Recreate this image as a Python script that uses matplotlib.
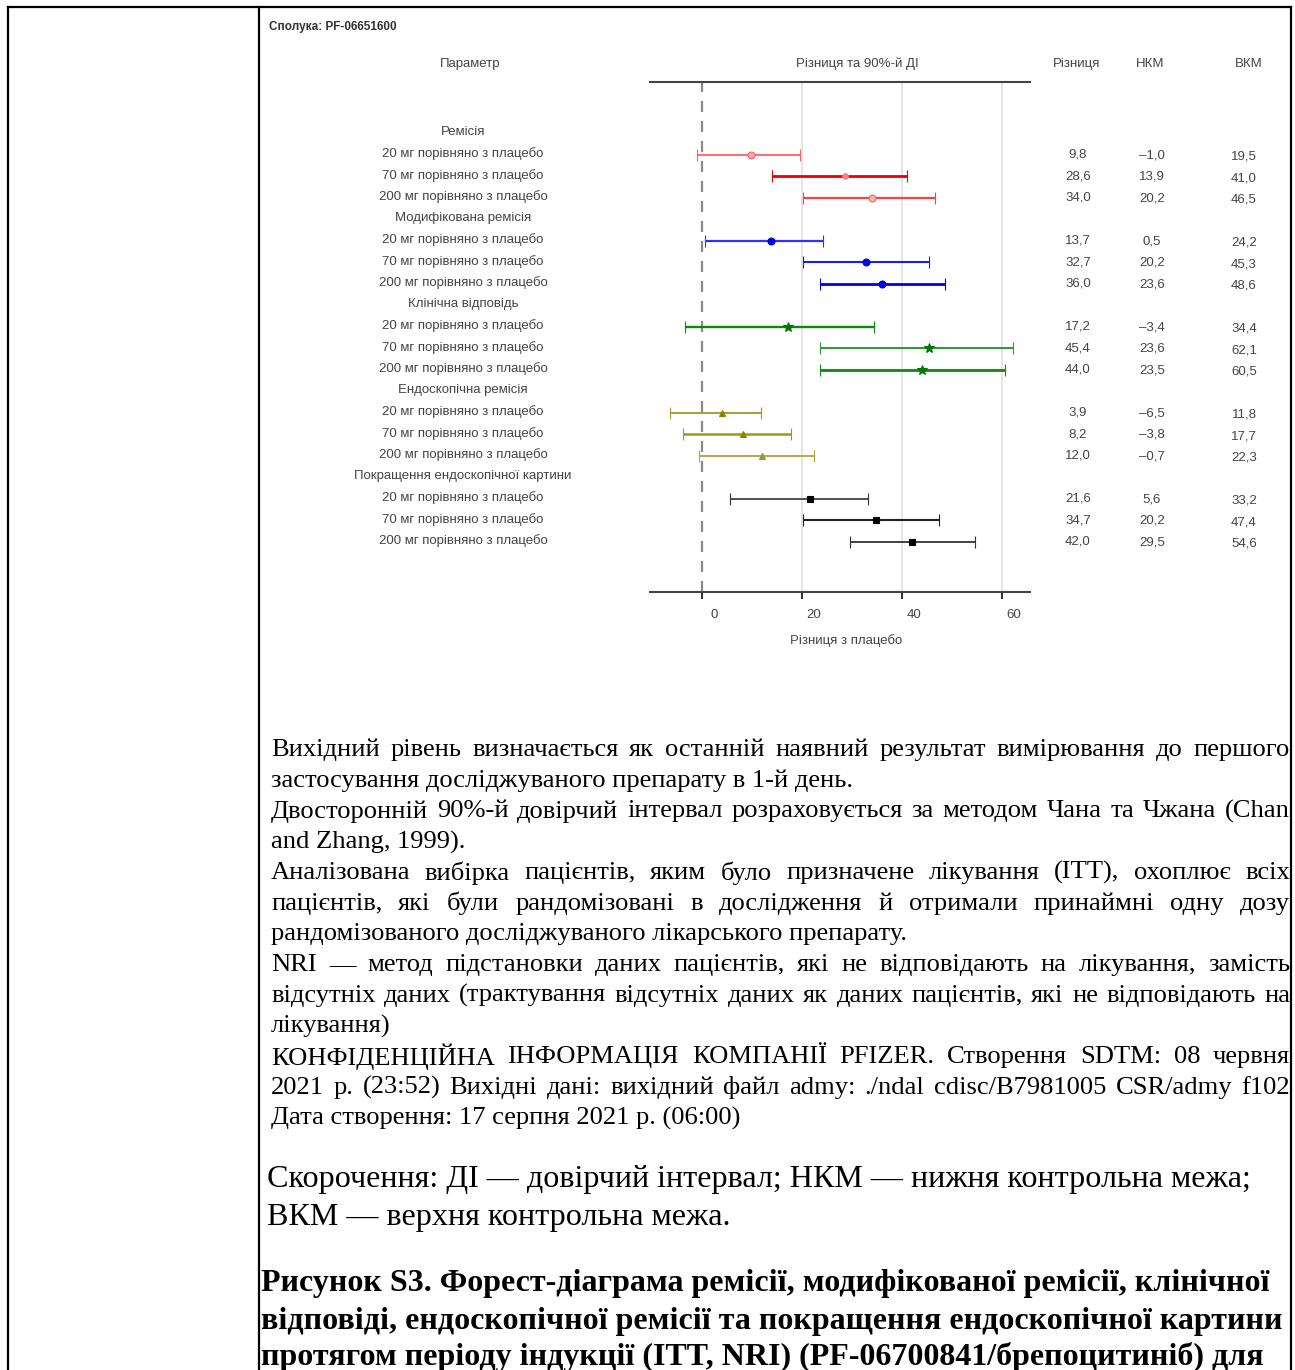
import matplotlib
matplotlib.use("Agg")
import matplotlib.pyplot as plt
import matplotlib.transforms as mtransforms

# ---------------- data ----------------
compound = "Сполука: PF-06651600"
groups = ["Ремісія", "Модифікована ремісія", "Клінічна відповідь",
          "Ендоскопічна ремісія", "Покращення ендоскопічної картини"]
comparisons = ["20 мг порівняно з плацебо", "70 мг порівняно з плацебо",
               "200 мг порівняно з плацебо"]
diff = [9.8, 28.6, 34.0, 13.7, 32.7, 36.0, 17.2, 45.4, 44.0, 3.9, 8.2, 12.0, 21.6, 34.7, 42.0]
lcl = [-1.0, 13.9, 20.2, 0.5, 20.2, 23.6, -3.4, 23.6, 23.5, -6.5, -3.8, -0.7, 5.6, 20.2, 29.5]
ucl = [19.5, 41.0, 46.5, 24.2, 45.3, 48.6, 34.4, 62.1, 60.5, 11.8, 17.7, 22.3, 33.2, 47.4, 54.6]
xticks = [0, 20, 40, 60]
col_headers = ["Параметр", "Різниця та 90%-й ДІ", "Різниця", "НКМ", "ВКМ"]
xlabel = "Різниця з плацебо"

body_lines = [
    ("Вихідний рівень визначається як останній наявний результат вимірювання до першого", True),
    ("застосування досліджуваного препарату в 1-й день.", False),
    ("Двосторонній 90%-й довірчий інтервал розраховується за методом Чана та Чжана (Chan", True),
    ("and Zhang, 1999).", False),
    ("Аналізована вибірка пацієнтів, яким було призначене лікування (ITT), охоплює всіх", True),
    ("пацієнтів, які були рандомізовані в дослідження й отримали принаймні одну дозу", True),
    ("рандомізованого досліджуваного лікарського препарату.", False),
    ("NRI — метод підстановки даних пацієнтів, які не відповідають на лікування, замість", True),
    ("відсутніх даних (трактування відсутніх даних як даних пацієнтів, які не відповідають на", True),
    ("лікування)", False),
    ("КОНФІДЕНЦІЙНА ІНФОРМАЦІЯ КОМПАНІЇ PFIZER. Створення SDTM: 08 червня", True),
    ("2021 р. (23:52) Вихідні дані: вихідний файл admy: ./ndal cdisc/B7981005 CSR/admy f102", True),
    ("Дата створення: 17 серпня 2021 р. (06:00)", False),
]
abbrev_lines = ["Скорочення: ДІ — довірчий інтервал; НКМ — нижня контрольна межа;",
                "ВКМ — верхня контрольна межа."]
caption_lines = ["Рисунок S3. Форест-діаграма ремісії, модифікованої ремісії, клінічної",
                 "відповіді, ендоскопічної ремісії та покращення ендоскопічної картини",
                 "протягом періоду індукції (ITT, NRI) (PF-06700841/брепоцитиніб) для"]

# styles per row
line_colors = ["#ff6060", "#ee0000", "#ff4040",
               "#3030ff", "#1a1aff", "#0000ee",
               "#0a8a0a", "#2a9a2a", "#118811",
               "#9c9c22", "#9a9a18", "#a8a840",
               "#333333", "#222222", "#333333"]
line_widths = [1.3, 2.0, 1.6, 1.6, 1.5, 2.0, 1.7, 1.4, 2.0, 1.3, 1.8, 1.3, 1.2, 1.5, 1.3]
markers = ["o", "o", "o", "o", "o", "o", "*", "*", "*", "^", "^", "^", "s", "s", "s"]
msizes = [5, 4, 5, 5, 5, 5, 7, 7, 7, 4, 4, 4, 4.5, 5, 4]
mfcs = ["#ffb0b0", "#ff8080", "#ffb0b0", "#0000ee", "#0000ee", "#0000ee",
        "#007700", "#007700", "#007700", "#888800", "#888800", "#999933",
        "#000000", "#000000", "#000000"]

W, H = 1295, 1370
fig = plt.figure(figsize=(W / 100, H / 100), dpi=100)
ov = fig.add_axes([0, 0, 1, 1])
ov.set_xlim(0, W)
ov.set_ylim(H, 0)
ov.axis("off")
renderer = fig.canvas.get_renderer()

SANS = "Liberation Sans"
SERIF = "Liberation Serif"
TXT = "#444444"


def measure(text, fs, **kw):
    t = ov.text(0, 0, text, fontsize=fs, **kw)
    w = t.get_window_extent(renderer).width
    t.remove()
    return w


def fit(text, target, **kw):
    return 10 * target / measure(text, 10, **kw)


def justify(text, x0, x1, y, fs, **kw):
    words = text.split(" ")
    widths = [measure(w, fs, **kw) for w in words]
    gap = (x1 - x0 - sum(widths)) / (len(words) - 1)
    x = x0
    for w, wd in zip(words, widths):
        ov.text(x, y, w, fontsize=fs, ha="left", va="center", **kw)
        x += wd + gap


# ---------------- table borders ----------------
bk = dict(color="black", lw=1.6, solid_capstyle="projecting")
ov.plot([8, 1291], [7, 7], **bk)
ov.plot([8, 8], [7, H], **bk)
ov.plot([259, 259], [7, H], **bk)
ov.plot([1291, 1291], [7, H], **bk)

# ---------------- forest plot ----------------
ax = fig.add_axes([650 / W, 1 - 592 / H, 380 / W, 510 / H])
ax.set_xlim(-10.4, 65.6)
row_step = 21.5
top_off = (131 - 82) / row_step
ax.set_ylim((592 - 131) / row_step, -top_off)
ax.set_facecolor("none")
for s in ["left", "right"]:
    ax.spines[s].set_visible(False)
for s in ["top", "bottom"]:
    ax.spines[s].set_color("#444444")
    ax.spines[s].set_linewidth(1.5)
ax.set_yticks([])
ax.set_xticks(xticks)
ax.set_xticklabels([str(v) for v in xticks], fontsize=9.5, color=TXT, family=SANS)
ax.tick_params(axis="x", direction="out", length=5, width=1.5, color="#333333", pad=7)
offset = mtransforms.ScaledTranslation(12 / 100, 0, fig.dpi_scale_trans)
for lbl in ax.get_xticklabels():
    lbl.set_transform(lbl.get_transform() + offset)
for v in xticks[1:]:
    ax.axvline(v, color="#e3e3e3", lw=1.3, zorder=0)
ax.axvline(0, color="#8a8a8a", lw=1.6, ls=(0, (5, 4)), zorder=1)

# row positions
label_pos = []
row_pos = []
k = 0
for g in groups:
    label_pos.append((k, g))
    k += 1
    for c in comparisons:
        label_pos.append((k, c))
        row_pos.append(k)
        k += 1

blend = mtransforms.blended_transform_factory(ov.transData, ax.transData)
chart_fs = fit(comparisons[0], 164, family=SANS)
for pos, txt in label_pos:
    ax.text(463, pos + 0.05, txt, transform=blend, ha="center", va="center",
            fontsize=chart_fs, color=TXT, family=SANS)


def fmt(v):
    return f"{v:.1f}".replace(".", ",").replace("-", "–")


for i, y in enumerate(row_pos):
    yy = y + 0.1
    ax.errorbar([diff[i]], [yy], xerr=[[diff[i] - lcl[i]], [ucl[i] - diff[i]]],
                fmt=markers[i], color=line_colors[i], ecolor=line_colors[i],
                elinewidth=line_widths[i], capsize=4.5, capthick=line_widths[i],
                ms=msizes[i], mfc=mfcs[i], mec=mfcs[i] if i not in (0, 2) else "#ff6060",
                mew=0.8, zorder=3)
    ax.text(1078, yy, fmt(diff[i]), transform=blend, ha="center", va="center",
            fontsize=chart_fs, color=TXT, family=SANS)
    ax.text(1152, yy + 0.03, fmt(lcl[i]), transform=blend, ha="center", va="center",
            fontsize=chart_fs, color=TXT, family=SANS)
    ax.text(1244, yy + 0.1, fmt(ucl[i]), transform=blend, ha="center", va="center",
            fontsize=chart_fs, color=TXT, family=SANS)

# headers
hx = [470, 857, 1077, 1150, 1249]
for x, h in zip(hx, col_headers):
    ov.text(x, 64, h, ha="center", va="center", fontsize=chart_fs, color=TXT, family=SANS)
ov.text(846, 641, xlabel, ha="center", va="center", fontsize=chart_fs, color=TXT, family=SANS)
ov.text(269, 27, compound, ha="left", va="center", fontsize=chart_fs * 0.88,
        fontweight="bold", color="#333333", family=SANS)

# ---------------- body text ----------------
body_fs = fit(body_lines[1][0], 584, family=SERIF)
y = 750
for text, just in body_lines:
    if just:
        justify(text, 271, 1290, y, body_fs, family=SERIF, color="black")
    else:
        ov.text(271, y, text, fontsize=body_fs, ha="left", va="center",
                family=SERIF, color="black")
    y += 30.7

abbr_fs = fit(abbrev_lines[0], 985, family=SERIF)
for yy, t in zip([1180, 1217], abbrev_lines):
    ov.text(267, yy, t, fontsize=abbr_fs, ha="left", va="center", family=SERIF, color="black")

cap_fs = fit(caption_lines[1], 1020, family=SERIF, fontweight="bold")
for yy, t in zip([1284, 1321, 1357], caption_lines):
    ov.text(261, yy, t, fontsize=cap_fs, ha="left", va="center", family=SERIF,
            fontweight="bold", color="black")

fig.savefig("out.png", dpi=100)
